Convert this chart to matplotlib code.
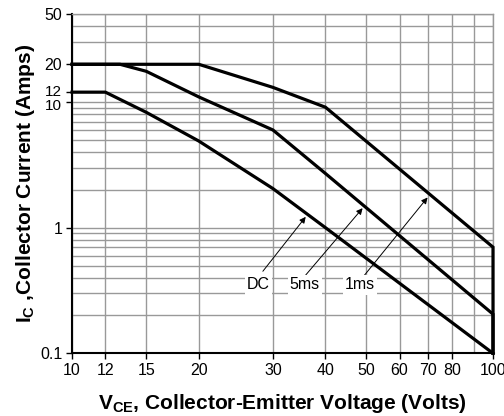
import matplotlib
matplotlib.use("Agg")
import matplotlib.pyplot as plt
import matplotlib.transforms as mtransforms
from matplotlib.ticker import FixedLocator, NullFormatter

plt.rcParams['font.family'] = ['Liberation Sans', 'DejaVu Sans']
plt.rcParams['mathtext.fontset'] = 'custom'
plt.rcParams['mathtext.rm'] = 'Liberation Sans'
plt.rcParams['mathtext.bf'] = 'Liberation Sans:bold'

# Safe operating area curves (Volts, Amps)
dc_v = [10, 12, 15, 20, 30, 40, 100]
dc_i = [12, 12, 8.3, 4.9, 2.05, 1.0, 0.1]
ms5_v = [10, 13, 15, 20, 30, 40, 100, 100]
ms5_i = [20, 20, 17.6, 11, 6.0, 2.7, 0.205, 0.1]
ms1_v = [10, 20, 30, 40, 100, 100]
ms1_i = [20, 20, 13.1, 9.1, 0.7, 0.1]

# labels with arrow heads (on curve) and tails
labels = ["DC", "5ms", "1ms"]
label_pos = [(27.7, 0.35), (35.7, 0.35), (48.3, 0.35)]
arrow_head = [(35.9, 1.22), (49.0, 1.43), (69.9, 1.74)]
arrow_tail = [(28.4, 0.45), (35.9, 0.42), (49.4, 0.415)]

x_ticks = [10, 12, 15, 20, 30, 40, 50, 60, 70, 80, 100]
x_minor = [90]
y_ticks = [0.1, 1, 10, 12, 20, 50]
y_tick_labels = ["0.1", "1", "10", "12", "20", "50"]
y_minor = [0.2, 0.3, 0.4, 0.5, 0.6, 0.7, 0.8, 0.9,
           2, 3, 4, 5, 6, 7, 8, 9, 30, 40]

fig = plt.figure(figsize=(5.04, 4.16), dpi=100)
ax = fig.add_axes([0.1429, 0.1507, 0.8353, 0.8149])
ax.set_xscale('log')
ax.set_yscale('log')
ax.set_xlim(10, 100)
ax.set_ylim(0.1, 50)

grid_col = '#999999'
ax.xaxis.set_major_locator(FixedLocator(x_ticks))
ax.xaxis.set_minor_locator(FixedLocator(x_minor))
ax.set_xticklabels([str(v) for v in x_ticks])
ax.xaxis.set_minor_formatter(NullFormatter())
ax.yaxis.set_major_locator(FixedLocator(y_ticks))
ax.yaxis.set_minor_locator(FixedLocator(y_minor))
ax.set_yticklabels(y_tick_labels)
ax.yaxis.set_minor_formatter(NullFormatter())
ax.grid(True, which='both', color=grid_col, lw=1.0)
ax.set_axisbelow(True)
ax.tick_params(which='major', direction='out', length=4, width=1, labelsize=11.5, pad=3)
ax.tick_params(which='minor', length=0)
# the 12 and 10 labels crowd each other; push them apart a hair
for lab in ax.get_yticklabels():
    if lab.get_text() == "12":
        lab.set_fontsize(11)
        lab.set_transform(lab.get_transform() + mtransforms.ScaledTranslation(0, 1.5 / 72, fig.dpi_scale_trans))
    elif lab.get_text() == "10":
        lab.set_fontsize(11)
        lab.set_transform(lab.get_transform() + mtransforms.ScaledTranslation(0, -1.5 / 72, fig.dpi_scale_trans))

for s in ['left', 'bottom']:
    ax.spines[s].set_linewidth(1.5)
    ax.spines[s].set_color('black')
for s in ['top', 'right']:
    ax.spines[s].set_linewidth(1.0)
    ax.spines[s].set_color(grid_col)

for v, i in [(dc_v, dc_i), (ms5_v, ms5_i), (ms1_v, ms1_i)]:
    ax.plot(v, i, color='black', lw=2.3, solid_joinstyle='miter', clip_on=False, zorder=3)

for lab, pos, head, tail in zip(labels, label_pos, arrow_head, arrow_tail):
    ax.annotate('', xy=head, xytext=tail,
                arrowprops=dict(arrowstyle='-|>', color='black', lw=0.7,
                                mutation_scale=9, shrinkA=0, shrinkB=0),
                zorder=4)
    ax.text(pos[0], pos[1], lab, ha='center', va='center', fontsize=11.5,
            bbox=dict(facecolor='white', edgecolor='none', pad=1.5), zorder=5)

ax.set_xlabel(r'$\mathbf{V_{CE}}$, Collector-Emitter Voltage (Volts)',
              fontsize=15, fontweight='bold', labelpad=10)
ax.set_ylabel(r'$\mathbf{I_{C}}$ ,Collector Current (Amps)',
              fontsize=15, fontweight='bold', labelpad=2)

fig.savefig('out.png', dpi=100)
